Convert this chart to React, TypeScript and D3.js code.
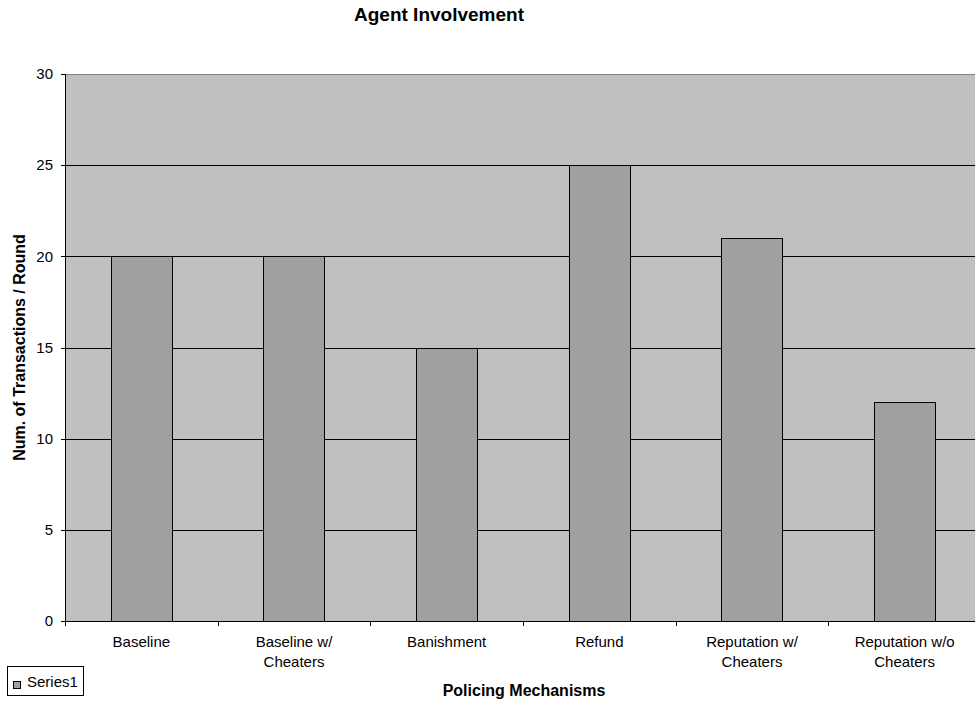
import React from "react";
import * as d3 from "d3";

// Policing mechanisms and the average number of transactions per round
const categories: string[][] = [
  ["Baseline"],
  ["Baseline w/", "Cheaters"],
  ["Banishment"],
  ["Refund"],
  ["Reputation w/", "Cheaters"],
  ["Reputation w/o", "Cheaters"],
];
const series1: number[] = [20, 20, 15, 25, 21, 12];
const yTicks: number[] = [0, 5, 10, 15, 20, 25, 30];

const W = 975;
const H = 704;
const plot = { left: 65, top: 74, bottom: 621, right: 981 };
const FONT = "'Liberation Sans', Arial, sans-serif";

export default function App() {
  const keys = categories.map((c) => c.join(" "));
  const x = d3
    .scaleBand<string>()
    .domain(keys)
    .range([plot.left, plot.right])
    .paddingInner(0.6)
    .paddingOuter(0.3);
  const step = x.step();
  const y = d3.scaleLinear().domain([0, 30]).range([plot.bottom, plot.top]);
  const crisp = (v: number) => Math.round(v) + 0.5;

  return (
    <svg
      width={W}
      height={H}
      style={{ position: "absolute", left: 0, top: 0, background: "#fff" }}
      fontFamily={FONT}
    >
      {/* plot area */}
      <rect
        x={plot.left}
        y={plot.top}
        width={plot.right - plot.left}
        height={plot.bottom - plot.top}
        fill="#c0c0c0"
      />
      <line
        x1={plot.left}
        x2={plot.right}
        y1={crisp(plot.top)}
        y2={crisp(plot.top)}
        stroke="#808080"
      />

      {/* horizontal gridlines */}
      {yTicks
        .filter((t) => t > 0 && t < 30)
        .map((t) => (
          <line
            key={"g" + t}
            x1={plot.left}
            x2={plot.right}
            y1={crisp(y(t))}
            y2={crisp(y(t))}
            stroke="#000"
          />
        ))}

      {/* bars */}
      {series1.map((v, i) => {
        const bx = x(keys[i])!;
        return (
          <rect
            key={"b" + i}
            x={Math.round(bx) + 0.5}
            y={crisp(y(v))}
            width={Math.round(x.bandwidth())}
            height={Math.round(y(0)) - Math.round(y(v))}
            fill="#a0a0a0"
            stroke="#000"
            strokeWidth={1}
          />
        );
      })}

      {/* y axis */}
      <line
        x1={crisp(plot.left)}
        x2={crisp(plot.left)}
        y1={plot.top}
        y2={plot.bottom + 1}
        stroke="#000"
      />
      {yTicks.map((t) => (
        <g key={"y" + t}>
          <line
            x1={plot.left - 4}
            x2={plot.left}
            y1={crisp(y(t))}
            y2={crisp(y(t))}
            stroke="#000"
          />
          <text
            x={53}
            y={y(t)}
            dy="0.35em"
            textAnchor="end"
            fontSize={15}
            fill="#000"
          >
            {t}
          </text>
        </g>
      ))}

      {/* x axis */}
      <line
        x1={plot.left}
        x2={plot.right}
        y1={crisp(plot.bottom)}
        y2={crisp(plot.bottom)}
        stroke="#000"
      />
      {d3.range(categories.length + 1).map((i) => {
        const tx = crisp(plot.left + i * step);
        return (
          <line
            key={"xt" + i}
            x1={tx}
            x2={tx}
            y1={plot.bottom}
            y2={plot.bottom + 5}
            stroke="#000"
          />
        );
      })}
      {categories.map((lines, i) => {
        const cx = x(keys[i])! + x.bandwidth() / 2;
        return (
          <text key={"xl" + i} textAnchor="middle" fontSize={15} fill="#000">
            {lines.map((ln, j) => (
              <tspan key={j} x={cx} y={647 + j * 20}>
                {ln}
              </tspan>
            ))}
          </text>
        );
      })}

      {/* titles */}
      <text
        x={439}
        y={21}
        textAnchor="middle"
        fontSize={19}
        fontWeight="bold"
        fill="#000"
      >
        Agent Involvement
      </text>
      <text
        x={524}
        y={696}
        textAnchor="middle"
        fontSize={16}
        fontWeight="bold"
        fill="#000"
      >
        Policing Mechanisms
      </text>
      <text
        transform={`translate(25, ${(plot.top + plot.bottom) / 2}) rotate(-90)`}
        textAnchor="middle"
        fontSize={16}
        fontWeight="bold"
        fill="#000"
      >
        Num. of Transactions / Round
      </text>

      {/* legend */}
      <rect x={7.5} y={666.5} width={76} height={29} fill="#fff" stroke="#000" />
      <rect x={13.5} y={681.5} width={7} height={7} fill="#a0a0a0" stroke="#000" />
      <text x={27} y={687} fontSize={15} fill="#000">
        Series1
      </text>
    </svg>
  );
}
